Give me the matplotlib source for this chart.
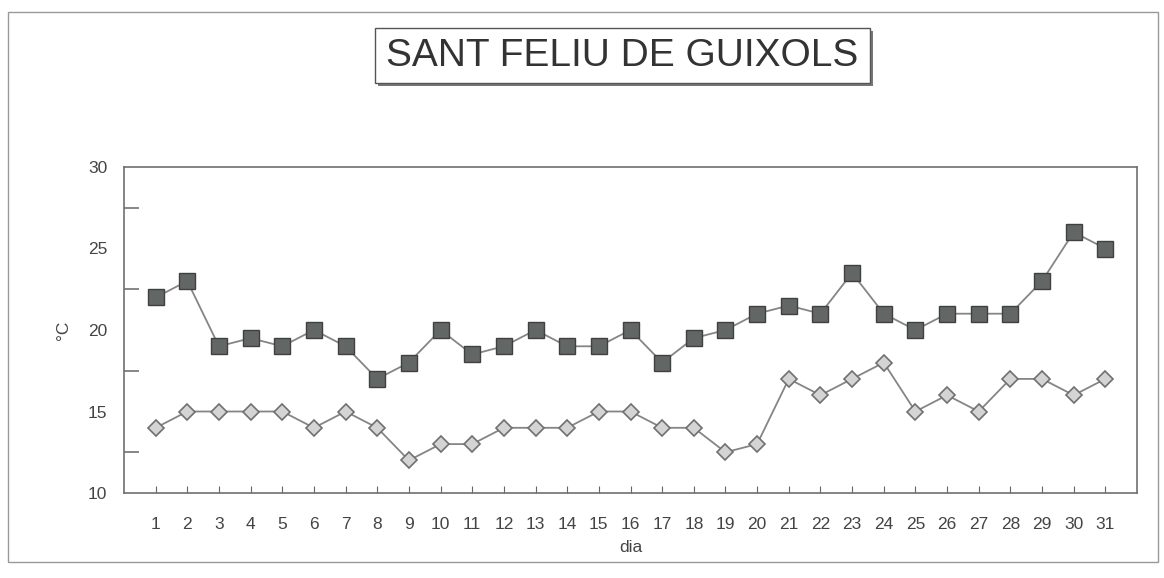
import matplotlib.pyplot as plt
from matplotlib.patches import Rectangle

dies = list(range(1, 32))
t_max = [22, 23, 19, 19.5, 19, 20, 19, 17, 18, 20, 18.5, 19, 20, 19, 19, 20,
         18, 19.5, 20, 21, 21.5, 21, 23.5, 21, 20, 21, 21, 21, 23, 26, 25]
t_min = [14, 15, 15, 15, 15, 14, 15, 14, 12, 13, 13, 14, 14, 14, 15, 15,
         14, 14, 12.5, 13, 17, 16, 17, 18, 15, 16, 15, 17, 17, 16, 17]
y_ticks = [10, 15, 20, 25, 30]

plt.rcParams['font.family'] = ['Liberation Sans', 'DejaVu Sans']

fig = plt.figure(figsize=(11.64, 5.78), dpi=100)
ax = fig.add_axes([124 / 1164, 1 - 493 / 578, (1137 - 124) / 1164, (493 - 167) / 578])

line_col = '#858585'
ax.plot(dies, t_max, color=line_col, lw=1.3, marker='s', markersize=11,
        markerfacecolor='#626664', markeredgecolor='#404040', markeredgewidth=1)
ax.plot(dies, t_min, color=line_col, lw=1.3, marker='D', markersize=8,
        markerfacecolor='#d4d4d4', markeredgecolor='#707070', markeredgewidth=1.2)

ax.set_xlim(0, 32)
ax.set_ylim(10, 30)
ax.set_xticks(dies)
ax.set_yticks(y_ticks)
ax.set_yticks([12.5, 17.5, 22.5, 27.5], minor=True)
ax.tick_params(axis='both', which='both', direction='in', colors='#666666',
               labelcolor='#444444', labelsize=12.5)
ax.tick_params(axis='y', which='major', length=0, pad=12)
ax.tick_params(axis='y', which='minor', length=11, width=1.1)
ax.tick_params(axis='x', length=5, pad=17)
for s in ax.spines.values():
    s.set_color('#707070')
    s.set_linewidth(1.2)

ax.set_xlabel('dia', fontsize=12.5, color='#444444', labelpad=6)
ax.set_ylabel('°C', fontsize=12.5, color='#444444', labelpad=12)

# title box with shadow
fig.patches.append(Rectangle((378 / 1164, 1 - 86 / 578), 495 / 1164, 55 / 578,
                             transform=fig.transFigure, facecolor='#777777',
                             edgecolor='none'))
fig.patches.append(Rectangle((375 / 1164, 1 - 83 / 578), 495 / 1164, 55 / 578,
                             transform=fig.transFigure, facecolor='white',
                             edgecolor='#555555', lw=1))
fig.text(622 / 1164, 1 - 56 / 578, 'SANT FELIU DE GUIXOLS', ha='center', va='center',
         fontsize=28, color='#333333')

# outer frame
fig.patches.append(Rectangle((8 / 1164, 1 - 562 / 578), 1150 / 1164, 550 / 578,
                             transform=fig.transFigure, facecolor='none',
                             edgecolor='#999999', lw=1))

fig.savefig('out.png', dpi=100)
